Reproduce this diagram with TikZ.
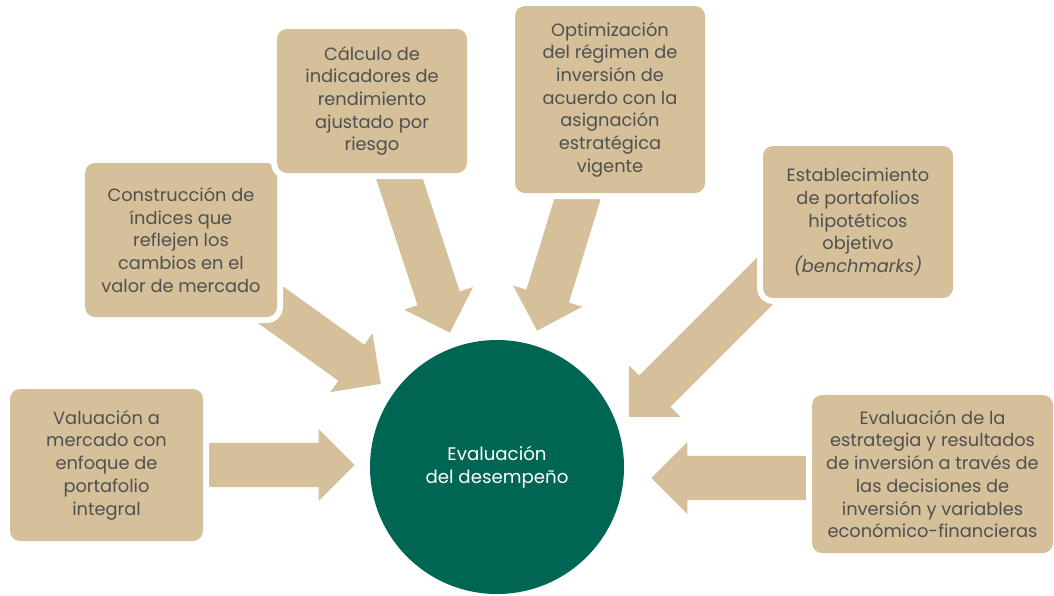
\documentclass[tikz,border=0pt]{standalone}
\usepackage{fontspec}
\setmainfont{Poppins}
\usetikzlibrary{positioning, calc, shapes.arrows, backgrounds}
\definecolor{arena}{RGB}{213,192,154}
\definecolor{verdeoscuro}{RGB}{0,102,84}
\definecolor{grisletra}{RGB}{80,80,80}
\tikzset{
  caja/.style={rounded corners=10pt, fill=arena, text=grisletra, align=center,
    inner sep=0pt, font=\fontsize{17.8}{22.7}\selectfont,
    preaction={draw=white, line width=12pt}}
}
\tikzset{
  flecha/.style={single arrow, fill=arena, inner xsep=0pt, inner ysep=22pt,
    single arrow head extend=14pt, single arrow head indent=0pt}
}
\newcommand{\flecha}[3]{%
  \path let \p1=($(#3)-(#2)$), \n1={veclen(\x1,\y1)} in
    (#2) -- (#3) node[flecha, pos=1, anchor=tip, sloped, allow upside down,
      minimum height=\n1] (#1) {};
}

\begin{document}
\begin{tikzpicture}[x=1pt, y=-1pt]
  \useasboundingbox (0,0) rectangle (1054,595);
  % boxes round the centre
  \node[caja, minimum width=193pt, minimum height=152pt] (valuacion) at (106.5,465)
    {Valuación a\\mercado con\\enfoque de\\portafolio\\integral};
  \node[caja, minimum width=192pt, minimum height=154pt] (indices) at (181,240)
    {Construcción de\\índices que\\reflejen los\\cambios en el\\valor de mercado};
  \node[caja, minimum width=190pt, minimum height=144pt] (calculo) at (372,101)
    {Cálculo de\\indicadores de\\rendimiento\\ajustado por\\riesgo};
  \node[caja, minimum width=190pt, minimum height=187pt] (optimizacion) at (610,99.5)
    {Optimización\\del régimen de\\inversión de\\acuerdo con la\\asignación\\estratégica\\vigente};
  \node[caja, minimum width=190pt, minimum height=152pt] (benchmarks) at (858,222)
    {Establecimiento\\de portafolios\\hipotéticos\\objetivo\\\textit{(benchmarks)}};
  \node[caja, minimum width=241pt, minimum height=158pt] (estrategia) at (932.5,474)
    {Evaluación de la\\estrategia y resultados\\de inversión a través de\\las decisiones de\\inversión y variables\\económico-financieras};
  \node[circle, fill=verdeoscuro, text=white, minimum size=254pt, align=center,
    font=\fontsize{18.2}{22.7}\selectfont] (desempeno) at (497,467)
    {Evaluación\\del desempeño};
  % arrow ends
  \coordinate (v1) at (180,465);   \coordinate (p1) at (355,465);
  \coordinate (v2) at (250,290);   \coordinate (p2) at (381,384);
  \coordinate (v3) at (390,150);   \coordinate (p3) at (450,333);
  \coordinate (v4) at (586,171);   \coordinate (p4) at (537,331);
  \coordinate (v5) at (784,262);   \coordinate (p5) at (629,417);
  \coordinate (v6) at (840,478);   \coordinate (p6) at (651,478);
  \begin{scope}[on background layer]
    \flecha{f1}{v1}{p1}
    \flecha{f2}{v2}{p2}
    \flecha{f3}{v3}{p3}
    \flecha{f4}{v4}{p4}
    \flecha{f5}{v5}{p5}
    \flecha{f6}{v6}{p6}
  \end{scope}
\end{tikzpicture}
\end{document}
